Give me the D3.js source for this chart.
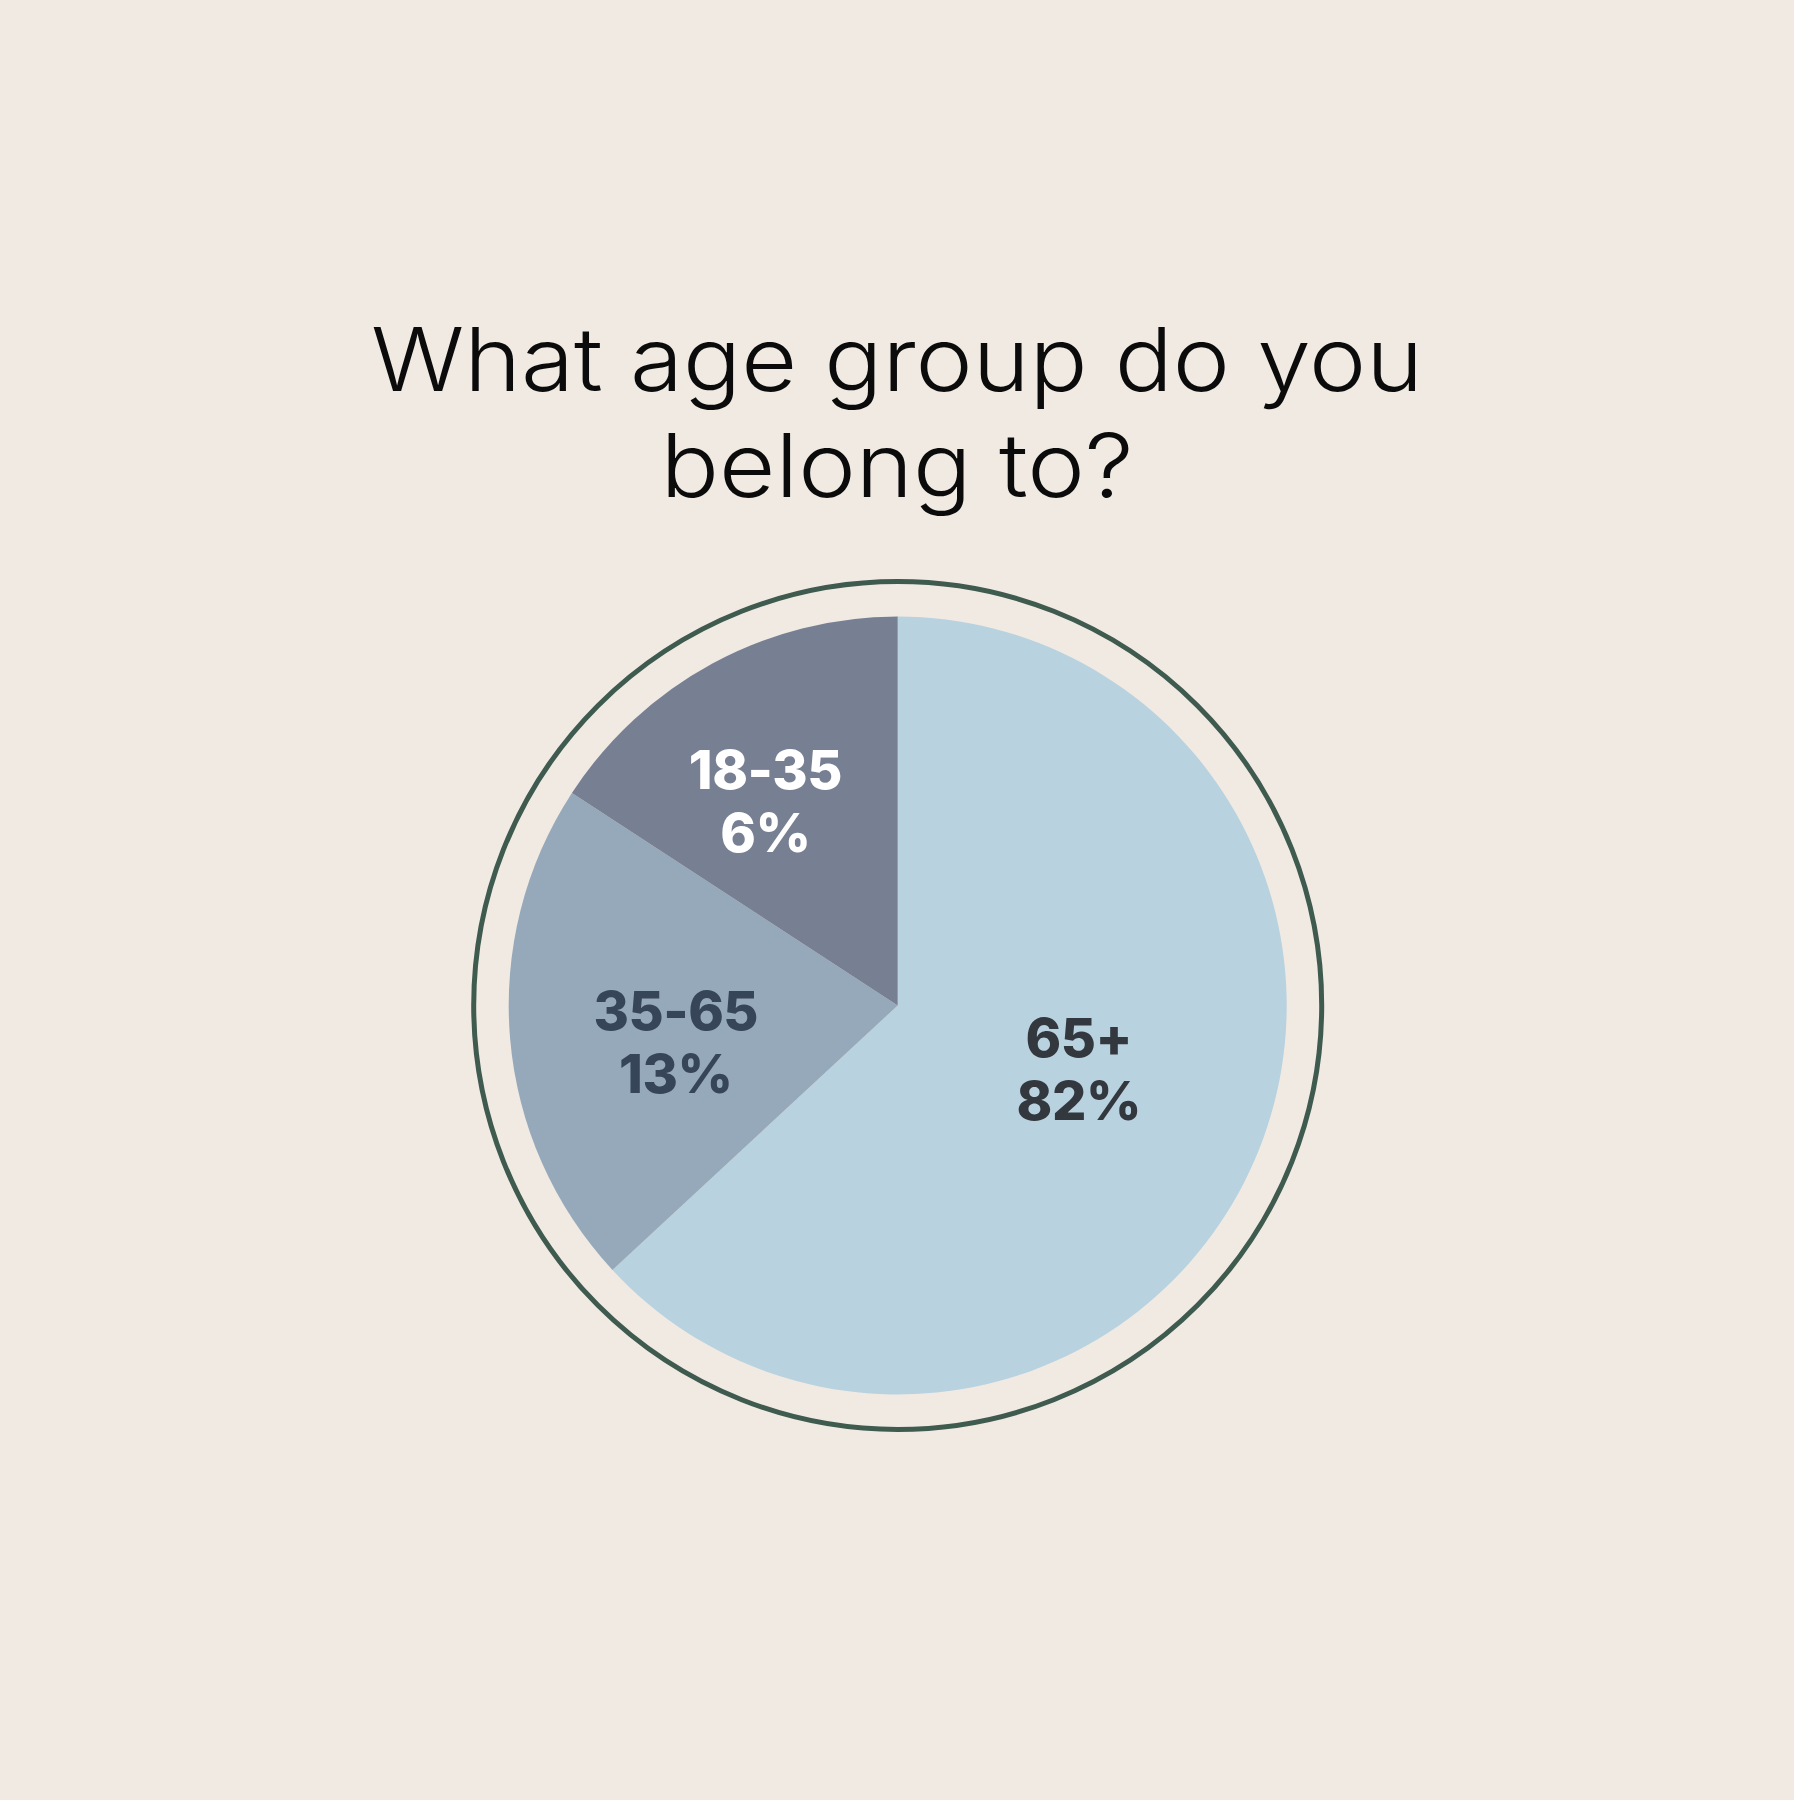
<!DOCTYPE html>
<html>
<head>
<meta charset="utf-8">
<script src="https://cdn.jsdelivr.net/npm/d3@7/dist/d3.min.js"></script>
<style>
  html, body { margin: 0; padding: 0; background: #F0EAE3; }
  svg { display: block; }
</style>
</head>
<body>
<svg id="chart" width="1794" height="1800"></svg>
<script>
// ---- data ----
const titleLines = ["What age group do you", "belong to?"];
const categories = ["65+", "35-65", "18-35"];
// slice sizes as drawn in the picture (share of the circle)
const sliceValues = [63.1, 21.1, 15.8];
// percentage labels printed on the slices
const percentLabels = ["82%", "13%", "6%"];

// ---- styles ----
const W = 1794, H = 1800;
const bg = "#F0EAE3";
const sliceColors = ["#B9D2DF", "#96A9BA", "#777F93"];
const labelColors = ["#33383F", "#374559", "#FFFFFF"];
const labelRadiusFrac = [0.493, 0.578, 0.627];
const labelAngleShift = -4.4 * Math.PI / 180;

const svg = d3.select("#chart");
svg.append("rect").attr("width", W).attr("height", H).attr("fill", bg);

// title
const title = svg.append("g");
const titleBaselines = [391, 497];
const titleWidths = [1052, 473];
titleLines.forEach((t, i) => {
  title.append("text")
    .attr("x", 897)
    .attr("y", titleBaselines[i])
    .attr("text-anchor", "middle")
    .attr("font-family", "Inter, 'Noto Sans', sans-serif")
    .attr("font-weight", 300)
    .attr("font-size", 88)
    .attr("fill", "#0B0B0B")
    .attr("textLength", titleWidths[i])
    .attr("lengthAdjust", "spacingAndGlyphs")
    .text(t);
});

// pie
const cx = 897.7, cy = 1005.5, R = 389, ringR = 424;
const g = svg.append("g").attr("transform", `translate(${cx},${cy})`);

const data = categories.map((c, i) => ({ cat: c, value: sliceValues[i], pct: percentLabels[i], i }));
const pie = d3.pie().value(d => d.value).sort(null).startAngle(0).endAngle(2 * Math.PI);
const arcs = pie(data);
const arc = d3.arc().innerRadius(0).outerRadius(R);

g.selectAll("path.slice")
  .data(arcs)
  .join("path")
  .attr("class", "slice")
  .attr("d", arc)
  .attr("fill", d => sliceColors[d.data.i]);

// outer ring
g.append("circle")
  .attr("r", ringR)
  .attr("fill", "none")
  .attr("stroke", "#3F5A4E")
  .attr("stroke-width", 5);

// labels
const lineGap = 63;
arcs.forEach(d => {
  const a = (d.startAngle + d.endAngle) / 2 + labelAngleShift;
  const r = R * labelRadiusFrac[d.data.i];
  const x = Math.sin(a) * r;
  const y = -Math.cos(a) * r;
  const t = g.append("text")
    .attr("text-anchor", "middle")
    .attr("font-family", "Inter, Roboto, sans-serif")
    .attr("font-weight", 800)
    .attr("font-size", 54)
    .attr("letter-spacing", -0.5)
    .attr("fill", labelColors[d.data.i]);
  t.append("tspan").attr("x", x).attr("y", y - 11.5).text(d.data.cat);
  t.append("tspan").attr("x", x).attr("y", y - 11.5 + lineGap).text(d.data.pct);
});
</script>
</body>
</html>
